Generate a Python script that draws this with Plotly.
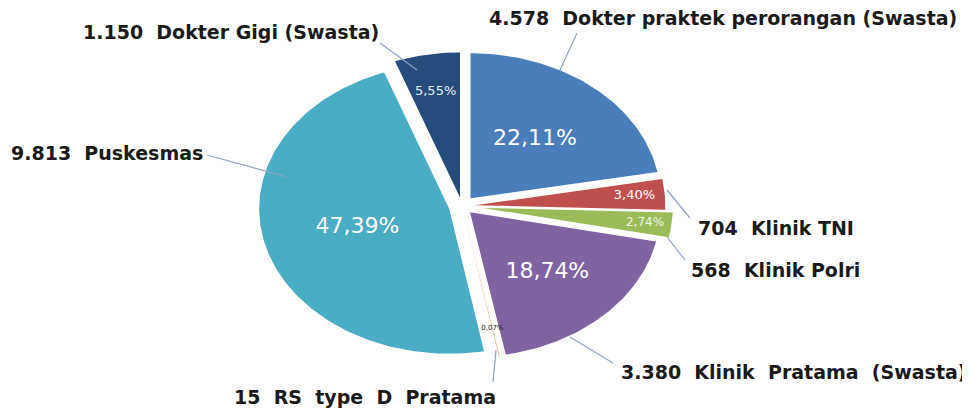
import math
import plotly.graph_objects as go

# ---- data ----
categories = ["Dokter praktek perorangan (Swasta)", "Klinik TNI", "Klinik Polri",
              "Klinik  Pratama  (Swasta)", "RS  type  D  Pratama", "Puskesmas",
              "Dokter Gigi (Swasta)"]
values = [4578, 704, 568, 3880, 15, 9813, 1150]
count_labels = ["4.578", "704", "568", "3.380", "15", "9.813", "1.150"]

# ---- style ----
colors = ["#4A7EBB", "#C0504D", "#9BBB59", "#8064A2", "#F7B08A", "#4BACC6", "#254C7D"]
pulls = [0.07, 0.07, 0.11, 0.06, 0.06, 0.07, 0.06]
text_r = [0.53, 0.84, 0.86, 0.58, 0.80, 0.50, 0.74]
pct_sizes = [22, 13, 12, 22, 7, 22, 13]
pct_colors = ["white", "white", "#EEF4E2", "white", "#222222", "white", "#E6ECF4"]
CX, CY, RX, RY = 462, 206, 190, 145
W, H = 970, 410
OFF = 8  # page body margin offset

label_pos = [(488, 18), (697, 228), (690, 270), (620, 372), (233, 397), (10, 153), (82, 32)]
leader = [((577, 33), (560, 70)), ((667, 190), (690, 218)), ((667, 237), (685, 260)),
          ((570, 337), (613, 363)), ((496, 350), (493, 382)), ((207, 155), (287, 177)),
          ((380, 43), (417, 70))]

total = sum(values)
fig = go.Figure()

cum = 0.0
tx, ty, ttext = [], [], []
for i, v in enumerate(values):
    a0 = cum / total * 2 * math.pi
    cum += v
    a1 = cum / total * 2 * math.pi
    am = (a0 + a1) / 2
    ax_ = CX + pulls[i] * RX * math.sin(am)
    ay_ = CY - pulls[i] * RY * math.cos(am)
    n = max(4, int((a1 - a0) / (2 * math.pi) * 360))
    xs, ys = [ax_], [ay_]
    for k in range(n + 1):
        t = a0 + (a1 - a0) * k / n
        xs.append(ax_ + RX * math.sin(t))
        ys.append(ay_ - RY * math.cos(t))
    xs.append(ax_)
    ys.append(ay_)
    fig.add_trace(go.Scatter(x=xs, y=ys, mode="lines", fill="toself",
                             fillcolor=colors[i], line=dict(color=colors[i], width=0),
                             hoverinfo="text", text=categories[i], showlegend=False))
    tx.append(ax_ + text_r[i] * RX * math.sin(am))
    ty.append(ay_ - text_r[i] * RY * math.cos(am))
    ttext.append(f"{v / total * 100:.2f}".replace(".", ",") + "%")

fig.add_trace(go.Scatter(x=tx, y=ty, mode="text", text=ttext,
                         textfont=dict(family="DejaVu Sans", size=pct_sizes, color=pct_colors),
                         hoverinfo="skip", showlegend=False))

for i in range(len(values)):
    (x0, y0), (x1, y1) = leader[i]
    fig.add_shape(type="line", x0=x0, y0=y0, x1=x1, y1=y1, xref="x", yref="y",
                  line=dict(color="#8FA3BF", width=1.2))
    lx, ly = label_pos[i]
    txt = count_labels[i] + "\u00a0 " + categories[i].replace("  ", "\u00a0 ")
    fig.add_annotation(x=lx, y=ly, xref="x", yref="y", text=txt, showarrow=False,
                       xanchor="left", yanchor="middle", borderpad=0,
                       font=dict(family="DejaVu Sans", size=19, color="#1A1A1A", weight="bold"))

fig.update_layout(width=W, height=H, margin=dict(l=0, r=0, t=0, b=0),
                  paper_bgcolor="white", plot_bgcolor="white",
                  xaxis=dict(range=[OFF, W + OFF], visible=False, fixedrange=True),
                  yaxis=dict(range=[H + OFF, OFF], visible=False, fixedrange=True))

fig.write_html("out.html")
